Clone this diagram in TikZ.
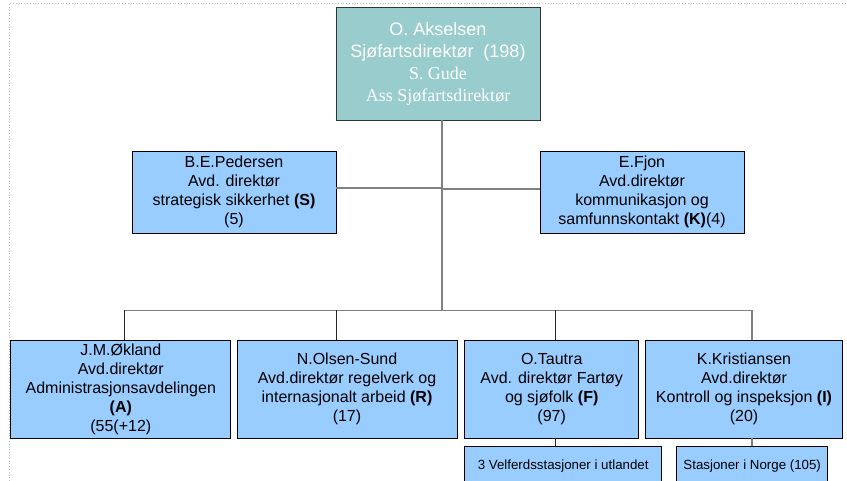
\documentclass[tikz,border=0pt]{standalone}
\usepackage{fontspec}
\setmainfont{Liberation Sans}
\newfontfamily\seriffont{Liberation Serif}
\definecolor{boxblue}{HTML}{99CCFF}
\definecolor{boxteal}{HTML}{99CCCC}
\definecolor{linegray}{HTML}{808080}
\definecolor{framegray}{HTML}{C0C0C0}
\begin{document}
\begin{tikzpicture}[x=1pt,y=-1pt,
  unit/.style={draw=black, line width=0.8pt, fill=boxblue, inner sep=0pt, align=center,
    font=\fontsize{16}{19}\selectfont, text=black},
  chief/.style={draw=black!80, line width=0.9pt, fill=boxteal, inner sep=0pt, align=center,
    text=white, minimum width=204pt, minimum height=113pt, font=\fontsize{18}{22}\selectfont},
  subunit/.style={unit, font=\fontsize{13.3}{16}\selectfont},
  link/.style={draw=linegray, line width=1.3pt},
  linkdark/.style={draw=black!85, line width=0.9pt}]
\useasboundingbox (0,0) rectangle (847,481);
\draw[framegray, dotted, line width=0.8pt] (9,481) -- (9,3.5) -- (847,3.5);

\node[chief] (top) at (438,63.5) {O. Akselsen\\
  Sjøfartsdirektør~ (198)\\
  {\seriffont S. Gude}\\
  {\seriffont Ass Sjøfartsdirektør}};

\node[unit, minimum width=204pt, minimum height=82pt] (S) at (234,192)
  {B.E.Pedersen\\Avd. direktør\\strategisk sikkerhet \textbf{(S)}\\(5)};
\node[unit, minimum width=204pt, minimum height=82pt] (K) at (642,192)
  {E.Fjon\\Avd.direktør\\kommunikasjon og\\samfunnskontakt \textbf{(K)}(4)};

\node[unit, minimum width=220pt, minimum height=98pt] (A) at (120.8,389)
  {J.M.Økland\\Avd.direktør\\Administrasjonsavdelingen\\\textbf{(A)}\\(55(+12)};
\node[unit, minimum width=220pt, minimum height=98pt] (R) at (347,389)
  {N.Olsen-Sund\\Avd.direktør regelverk og\\internasjonalt arbeid \textbf{(R)}\\(17)};
\node[unit, minimum width=174pt, minimum height=98pt] (F) at (551.7,389)
  {O.Tautra\\Avd. direktør Fartøy\\og sjøfolk \textbf{(F)}\\(97)};
\node[unit, minimum width=196.6pt, minimum height=98pt] (I) at (744,389)
  {K.Kristiansen\\Avd.direktør\\Kontroll og inspeksjon \textbf{(I)}\\(20)};

\node[subunit, minimum width=197pt, minimum height=40pt] (Fs) at (563.2,466)
  {3 Velferdsstasjoner i utlandet};
\node[subunit, minimum width=151pt, minimum height=40pt] (Is) at (752.2,466)
  {Stasjoner i Norge (105)};

% junction coordinates
\coordinate (trunk) at (442,310.5);
\coordinate (jS) at (442,188);
\coordinate (jK) at (442,189);
\coordinate (bA) at (124,310.5);
\coordinate (bR) at (336,310.5);
\coordinate (bF) at (555.7,310.5);
\coordinate (bI) at (752,310.5);

\draw[link] (trunk |- top.south) -- (trunk);
\draw[link] (S.east |- jS) -- (jS);
\draw[link] (jK) -- (K.west |- jK);
\draw[link] (bA) -- (bI);
\draw[linkdark] (bA) -- (bA |- A.north);
\draw[linkdark] (bR) -- (bR |- R.north);
\draw[linkdark] (bF) -- (bF |- F.north);
\draw[link] (bI) -- (bI |- I.north);
\draw[linkdark] (bF |- F.south) -- (bF |- Fs.north);
\draw[link] (bI |- I.south) -- (bI |- Is.north);
\end{tikzpicture}
\end{document}
